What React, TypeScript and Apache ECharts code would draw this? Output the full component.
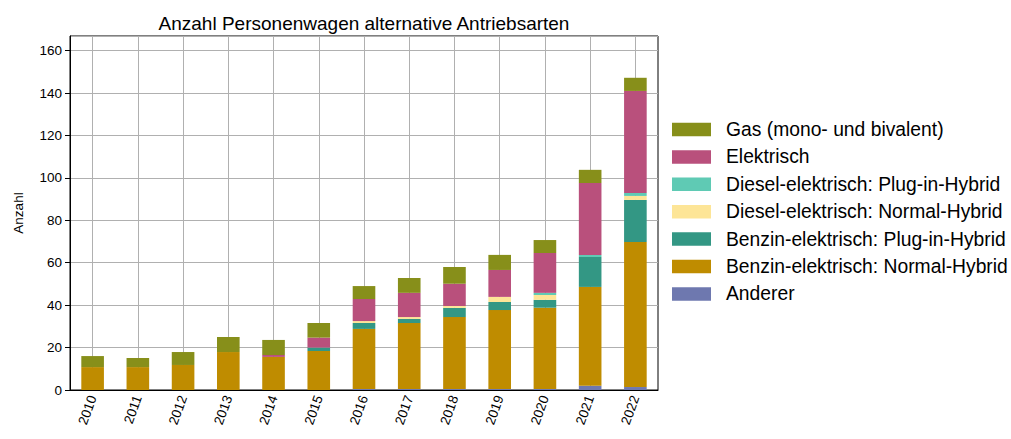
import React, { useEffect, useRef } from "react";
import * as echarts from "echarts";

const years = ["2010","2011","2012","2013","2014","2015","2016","2017","2018","2019","2020","2021","2022"];
const anderer = [0, 0, 0, 0, 0, 0, 0.5, 0.5, 0.5, 0.5, 0.5, 2.0, 1.4];
const benzinNormal = [10.8, 10.8, 11.8, 17.9, 15.6, 18.4, 28.3, 31.1, 33.9, 37.2, 38.3, 46.6, 68.4];
const benzinPlugin = [0, 0, 0, 0, 0, 1.6, 2.8, 1.9, 4.3, 3.8, 3.7, 14.1, 19.8];
const dieselNormal = [0, 0, 0, 0, 0, 0, 0.9, 0.9, 0.9, 2.4, 2.3, 0, 1.9];
const dieselPlugin = [0, 0, 0, 0, 0, 0, 0, 0, 0, 0, 1.0, 1.0, 1.4];
const elektrisch = [0, 0, 0, 0, 0.9, 4.7, 10.4, 11.4, 10.5, 12.7, 18.8, 33.9, 48.1];
const gas = [5.2, 4.3, 6.1, 7.1, 7.1, 6.9, 6.1, 7.0, 7.9, 7.1, 6.1, 6.2, 6.2];
const yTicks = [0, 20, 40, 60, 80, 100, 120, 140, 160];

const seriesDefs = [
  { name: "Anderer", data: anderer, color: "#6E78AF" },
  { name: "Benzin-elektrisch: Normal-Hybrid", data: benzinNormal, color: "#BF8C00" },
  { name: "Benzin-elektrisch: Plug-in-Hybrid", data: benzinPlugin, color: "#339784" },
  { name: "Diesel-elektrisch: Normal-Hybrid", data: dieselNormal, color: "#FDE597" },
  { name: "Diesel-elektrisch: Plug-in-Hybrid", data: dieselPlugin, color: "#5FCAB4" },
  { name: "Elektrisch", data: elektrisch, color: "#B9507C" },
  { name: "Gas (mono- und bivalent)", data: gas, color: "#878F1A" },
];

const FONT = "'Liberation Sans', Arial, Helvetica, sans-serif";

export default function App() {
  const ref = useRef<HTMLDivElement>(null);
  useEffect(() => {
    if (!ref.current) return;
    const chart = echarts.init(ref.current, undefined, { renderer: "svg" });
    chart.setOption({
      animation: false,
      backgroundColor: "#ffffff",
      textStyle: { fontFamily: FONT },
      title: {
        text: "Anzahl Personenwagen alternative Antriebsarten",
        left: 359,
        top: 9,
        textAlign: "center",
        textStyle: { fontFamily: FONT, fontSize: 19, fontWeight: "normal", color: "#000" },
      },
      grid: {
        left: 70, right: 353, top: 36, bottom: 49,
        show: true, borderColor: "#000", borderWidth: 1, backgroundColor: "transparent",
      },
      legend: {
        orient: "vertical",
        left: 667,
        top: 115,
        itemWidth: 39,
        itemHeight: 13.5,
        itemGap: 8.4,
        icon: "rect",
        data: seriesDefs.map((s) => s.name).reverse(),
        textStyle: { fontFamily: FONT, fontSize: 19.3, color: "#000", padding: [0, 0, 0, 10] },
      },
      xAxis: {
        type: "category",
        data: years,
        boundaryGap: true,
        axisLine: { lineStyle: { color: "#000", width: 1 } },
        axisTick: { alignWithLabel: true, length: 5, lineStyle: { color: "#000" } },
        axisLabel: { rotate: 70, fontSize: 13.5, color: "#000", fontFamily: FONT, margin: 6 },
        splitLine: { show: true, alignWithLabel: true, lineStyle: { color: "#b0b0b0", width: 1 } },
      },
      yAxis: {
        type: "value",
        min: 0,
        max: 166.9,
        interval: 20,
        name: "Anzahl",
        nameLocation: "middle",
        nameGap: 45,
        nameTextStyle: { fontFamily: FONT, fontSize: 13.5, color: "#000" },
        axisLine: { show: true, lineStyle: { color: "#000", width: 1 } },
        axisTick: { show: true, length: 5, lineStyle: { color: "#000" } },
        axisLabel: {
          fontSize: 13.5, color: "#000", fontFamily: FONT, margin: 8, showMaxLabel: false,
          formatter: (v: number) => (yTicks.includes(v) ? String(v) : ""),
        },
        splitLine: { show: true, lineStyle: { color: "#b0b0b0", width: 1 } },
      },
      series: seriesDefs.map((s) => ({
        name: s.name,
        type: "bar",
        stack: "total",
        data: s.data,
        barWidth: "50%",
        itemStyle: { color: s.color },
        emphasis: { disabled: true },
      })),
    });
    return () => chart.dispose();
  }, []);
  return <div ref={ref} style={{ width: 1011, height: 439, position: "absolute", left: 0, top: 0 }} />;
}
